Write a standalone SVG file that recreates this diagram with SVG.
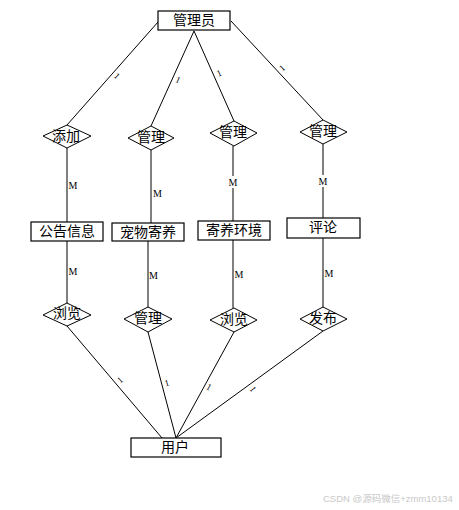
<svg xmlns="http://www.w3.org/2000/svg" width="459" height="510" viewBox="0 0 459 510">
<style>
.box{fill:#fff;stroke:#000;stroke-width:1.2}
.dia{fill:#fff;stroke:#000;stroke-width:1}
.ln{stroke:#000;stroke-width:1;fill:none}
.t{font-family:"Liberation Serif","Noto Sans CJK SC",serif;font-size:14px;fill:#000;text-anchor:middle;dominant-baseline:central}
.m{font-family:"Liberation Serif",serif;font-size:10px;fill:#000;text-anchor:middle;dominant-baseline:central}
.one{font-family:"Liberation Serif",serif;font-size:9px;fill:#000;text-anchor:middle;dominant-baseline:central}
.wm{font-family:"Liberation Sans","Noto Sans CJK SC",sans-serif;font-size:9.5px;fill:#c8c8c8}
</style>
<rect width="459" height="510" fill="#fff"/>
<g id="connectors">
<line class="ln" x1="158" y1="22" x2="67" y2="125"/>
<line class="ln" x1="194" y1="31" x2="151" y2="126"/>
<line class="ln" x1="194" y1="31" x2="234" y2="121"/>
<line class="ln" x1="231" y1="21" x2="323" y2="120"/>
<line class="ln" x1="67" y1="148" x2="67" y2="222"/>
<line class="ln" x1="151" y1="150" x2="151" y2="223"/>
<line class="ln" x1="233" y1="146" x2="233" y2="176"/>
<line class="ln" x1="233" y1="188" x2="233" y2="221"/>
<line class="ln" x1="323" y1="144" x2="323" y2="175"/>
<line class="ln" x1="323" y1="187" x2="323" y2="218"/>
<line class="ln" x1="67" y1="241" x2="67" y2="303"/>
<line class="ln" x1="148" y1="241" x2="148" y2="307"/>
<line class="ln" x1="233" y1="240" x2="233" y2="308"/>
<line class="ln" x1="323" y1="238" x2="323" y2="307"/>
<line class="ln" x1="67" y1="326" x2="162" y2="438"/>
<line class="ln" x1="148" y1="332" x2="176" y2="438"/>
<line class="ln" x1="234" y1="332" x2="176" y2="438"/>
<line class="ln" x1="323" y1="331" x2="176" y2="438"/>
<text class="one" transform="translate(117,76) rotate(41.5)">1</text>
<text class="one" transform="translate(178,80) rotate(24)">1</text>
<text class="one" transform="translate(219,73) rotate(-24)">1</text>
<text class="one" transform="translate(282,68) rotate(-43)">1</text>
<text class="one" transform="translate(120,380) rotate(-40)">1</text>
<text class="one" transform="translate(167,383) rotate(-15)">1</text>
<text class="one" transform="translate(209,387) rotate(29)">1</text>
<text class="one" transform="translate(253,389) rotate(54)">1</text>
<text class="m" x="73" y="185">M</text>
<text class="m" x="157.5" y="193">M</text>
<text class="m" x="233" y="182">M</text>
<text class="m" x="323" y="181">M</text>
<text class="m" x="73" y="271">M</text>
<text class="m" x="153.5" y="275">M</text>
<text class="m" x="239" y="274">M</text>
<text class="m" x="329" y="273">M</text>
</g>
<g id="admin"><rect class="box" x="158" y="11" width="72" height="19"/><text class="t" x="194" y="20.5">管理员</text></g>
<g id="r-add"><polygon class="dia" points="43,136 67,125 91,136 67,148"/><text class="t" x="66" y="136">添加</text></g>
<g id="r-manage1"><polygon class="dia" points="128,138 151,126 174,138 151,150"/><text class="t" x="151" y="137">管理</text></g>
<g id="r-manage2"><polygon class="dia" points="210,133 234,121 257,133 234,146"/><text class="t" x="233" y="132">管理</text></g>
<g id="r-manage3"><polygon class="dia" points="300,132 323,120 347,132 323,144"/><text class="t" x="323" y="131">管理</text></g>
<g id="e-notice"><rect class="box" x="31" y="222" width="72" height="19"/><text class="t" x="67" y="231.5">公告信息</text></g>
<g id="e-pet"><rect class="box" x="112" y="223" width="72" height="18"/><text class="t" x="148" y="232">宠物寄养</text></g>
<g id="e-env"><rect class="box" x="198" y="221" width="72" height="19"/><text class="t" x="234" y="230">寄养环境</text></g>
<g id="e-comment"><rect class="box" x="287" y="218" width="73" height="20"/><text class="t" x="323" y="227">评论</text></g>
<g id="r-browse1"><polygon class="dia" points="43,315 67,303 91,315 67,326"/><text class="t" x="67" y="313">浏览</text></g>
<g id="r-manage4"><polygon class="dia" points="124,319 148,307 172,319 148,332"/><text class="t" x="148" y="318">管理</text></g>
<g id="r-browse2"><polygon class="dia" points="210,320 234,308 257,320 234,332"/><text class="t" x="234" y="319">浏览</text></g>
<g id="r-publish"><polygon class="dia" points="300,319 323,307 347,319 323,331"/><text class="t" x="323" y="318">发布</text></g>
<g id="user"><rect class="box" x="131" y="438" width="90" height="19"/><text class="t" x="175" y="447">用户</text></g>
<text class="wm" x="323" y="502">CSDN @源码微信+zmm10134</text>
</svg>
